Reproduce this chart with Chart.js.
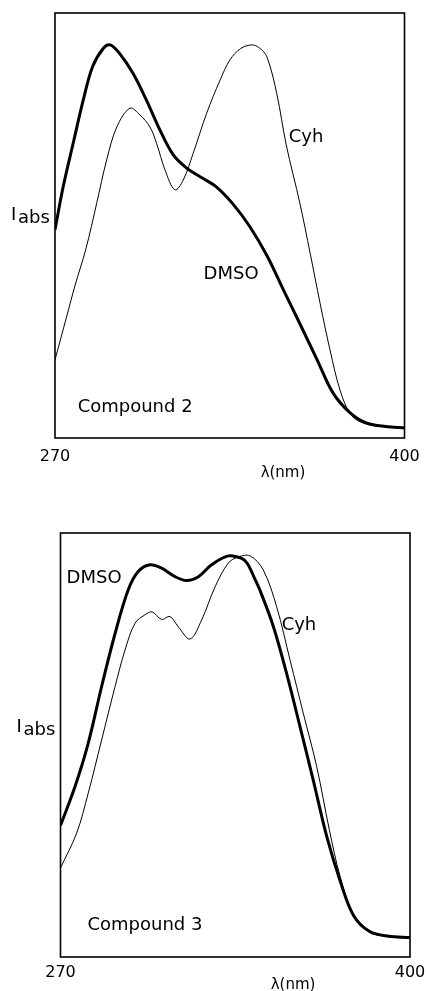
<!DOCTYPE html>
<html>
<head>
<meta charset="utf-8">
<script src="https://cdn.jsdelivr.net/npm/chart.js@4.4.1/dist/chart.umd.min.js"></script>
<style>
  html, body { margin: 0; padding: 0; background: #fff; }
  body { width: 426px; height: 991px; position: relative; overflow: hidden; }
  .panel { position: absolute; left: 0; width: 426px; }
  #panel2 { top: 0; height: 495px; }
  #panel3 { top: 495px; height: 496px; }
</style>
</head>
<body>
<div class="panel" id="panel2"><canvas id="chart2"></canvas></div>
<div class="panel" id="panel3"><canvas id="chart3"></canvas></div>
<script>
// absorption spectra (relative intensity 0..100)
const xTicks = [270, 400];

// Compound 2
const wl2Dmso  = [270, 273, 277, 280.5, 284, 288, 290.5, 294, 299, 304, 309, 314, 319, 325, 330, 336, 342.5, 349, 355, 361, 367.5, 373.5, 380, 386, 393, 400];
const abs2Dmso = [49, 59, 70, 79.5, 87.4, 91.7, 92.5, 90.5, 85.8, 79.5, 72.5, 66.6, 63.5, 61.1, 59.1, 55.2, 49.7, 42.7, 34.8, 27, 18.4, 10.5, 5.8, 3.5, 2.7, 2.4];
const wl2Cyh   = [270, 274.3, 277.5, 281.5, 285.5, 289.2, 293, 297.9, 301.6, 305.3, 307.8, 310.9, 314.6, 317.7, 321.4, 326.4, 331.4, 335.1, 339, 343.2, 346, 348.8, 352.5, 356, 361.1, 364.9, 368.6, 372.3, 376, 379.7, 383.5, 390, 400];
const abs2Cyh  = [18.4, 28.5, 36, 44.5, 55.2, 65.4, 73.2, 77.6, 76, 73.2, 69.3, 63.1, 58.4, 60.7, 67, 76.4, 84.2, 89, 91.6, 92.5, 91.8, 89.7, 81, 69, 55.2, 43.5, 31.7, 20.7, 11.3, 5.8, 3.8, 2.8, 2.4];

// Compound 3
const wl3Dmso  = [270, 275.4, 280.3, 285.3, 290.3, 295.2, 298.9, 303.3, 307.6, 312.6, 316.9, 321.3, 326.2, 332.4, 337.4, 339.5, 342.4, 344.5, 349.2, 354.1, 359.1, 364, 369, 374, 379, 385, 392, 400];
const abs3Dmso = [31, 40.2, 50.4, 63.8, 76.3, 86.6, 90.9, 92.5, 91.7, 89.7, 88.8, 89.7, 92.5, 94.6, 94, 92.8, 89, 86, 77.9, 66.9, 54.3, 41.7, 28.5, 18, 9.8, 6, 4.9, 4.6];
const wl3Cyh   = [270, 276, 280.3, 285.3, 290.3, 294, 297.7, 301.4, 304.1, 307.6, 310.7, 313.8, 318.2, 322.5, 327.5, 332.4, 336, 340.5, 345.4, 350.4, 355.4, 360.3, 365.3, 370, 374, 379, 385, 392, 400];
const abs3Cyh  = [21, 29.2, 38.6, 51.2, 63.8, 72.4, 78.7, 80.7, 81.4, 79.6, 80.3, 77.9, 75, 79.5, 87.3, 92.9, 94.3, 94.6, 91.3, 82.6, 70, 57.5, 44.9, 30, 19, 9.8, 5.8, 4.8, 4.4];

const pts = (xs, ys) => xs.map((x, i) => ({x: x, y: ys[i]}));
const FONT = '"DejaVu Sans", sans-serif';

// box round the plot area
const framePlugin = {
  id: 'frame',
  afterDatasetsDraw(chart) {
    const a = chart.chartArea, ctx = chart.ctx;
    ctx.save();
    ctx.strokeStyle = '#000';
    ctx.lineWidth = 1.6;
    ctx.strokeRect(a.left, a.top, a.right - a.left, a.bottom - a.top);
    ctx.restore();
  }
};

// curve names, compound name, I_abs and lambda labels
const notesPlugin = {
  id: 'notes',
  afterDraw(chart, args, opts) {
    const ctx = chart.ctx, xs = chart.scales.x, ys = chart.scales.y, a = chart.chartArea;
    ctx.save();
    ctx.fillStyle = '#000';
    ctx.textAlign = 'center';
    ctx.textBaseline = 'middle';
    ctx.font = '18px ' + FONT;
    opts.items.forEach(n => ctx.fillText(n.text, xs.getPixelForValue(n.x), ys.getPixelForValue(n.y)));

    ctx.textAlign = 'left';
    ctx.textBaseline = 'alphabetic';
    const yb = ys.getPixelForValue(opts.iabsAt);
    ctx.fillText('I', a.left - 44, yb);
    ctx.fillText('abs', a.left - 37, yb + 3);

    ctx.textAlign = 'center';
    ctx.textBaseline = 'middle';
    ctx.font = '15px ' + FONT;
    ctx.fillText('λ(nm)', xs.getPixelForValue(opts.lambdaAt), a.bottom + opts.lambdaDy);
    ctx.restore();
  }
};

function makeChart(id, dmso, cyh, notes, g) {
  return new Chart(document.getElementById(id), {
    type: 'line',
    data: {
      datasets: [{
        label: 'DMSO',
        data: dmso,
        borderColor: '#000',
        borderWidth: 3,
        pointRadius: 0,
        fill: false,
        tension: 0.35
      }, {
        label: 'Cyh',
        data: cyh,
        borderColor: '#000',
        borderWidth: 1,
        pointRadius: 0,
        fill: false,
        tension: 0.35
      }]
    },
    options: {
      responsive: true,
      maintainAspectRatio: false,
      animation: false,
      devicePixelRatio: 1,
      layout: { padding: { left: g.left, top: g.top, right: g.right, bottom: 0 } },
      plugins: {
        legend: { display: false },
        tooltip: { enabled: false },
        notes: notes
      },
      scales: {
        x: {
          type: 'linear',
          min: 270,
          max: 400,
          grid: { display: false, drawTicks: false },
          border: { display: false },
          afterBuildTicks: (s) => { s.ticks = xTicks.map(v => ({value: v})); },
          afterFit: (s) => { s.height = g.axisH; s.paddingLeft = 0; s.paddingRight = 0; },
          ticks: {
            color: '#000',
            padding: g.tickPad,
            maxRotation: 0,
            font: { family: FONT, size: 16 }
          }
        },
        y: {
          display: false,
          min: 0,
          max: 100
        }
      }
    },
    plugins: [framePlugin, notesPlugin]
  });
}

makeChart('chart2', pts(wl2Dmso, abs2Dmso), pts(wl2Cyh, abs2Cyh), {
  items: [
    {text: 'Cyh', x: 363.4, y: 70.8},
    {text: 'DMSO', x: 335.5, y: 38.4},
    {text: 'Compound 2', x: 299.8, y: 7.1}
  ],
  iabsAt: 51.3,
  lambdaAt: 354.8,
  lambdaDy: 35
}, {left: 55, top: 13, right: 21.5, axisH: 57, tickPad: 9});

makeChart('chart3', pts(wl3Dmso, abs3Dmso), pts(wl3Cyh, abs3Cyh), {
  items: [
    {text: 'DMSO', x: 282.5, y: 89.4},
    {text: 'Cyh', x: 358.7, y: 78.3},
    {text: 'Compound 3', x: 301.4, y: 7.5}
  ],
  iabsAt: 53.1,
  lambdaAt: 356.5,
  lambdaDy: 28
}, {left: 60.5, top: 38, right: 16, axisH: 34, tickPad: 6});
</script>
</body>
</html>
